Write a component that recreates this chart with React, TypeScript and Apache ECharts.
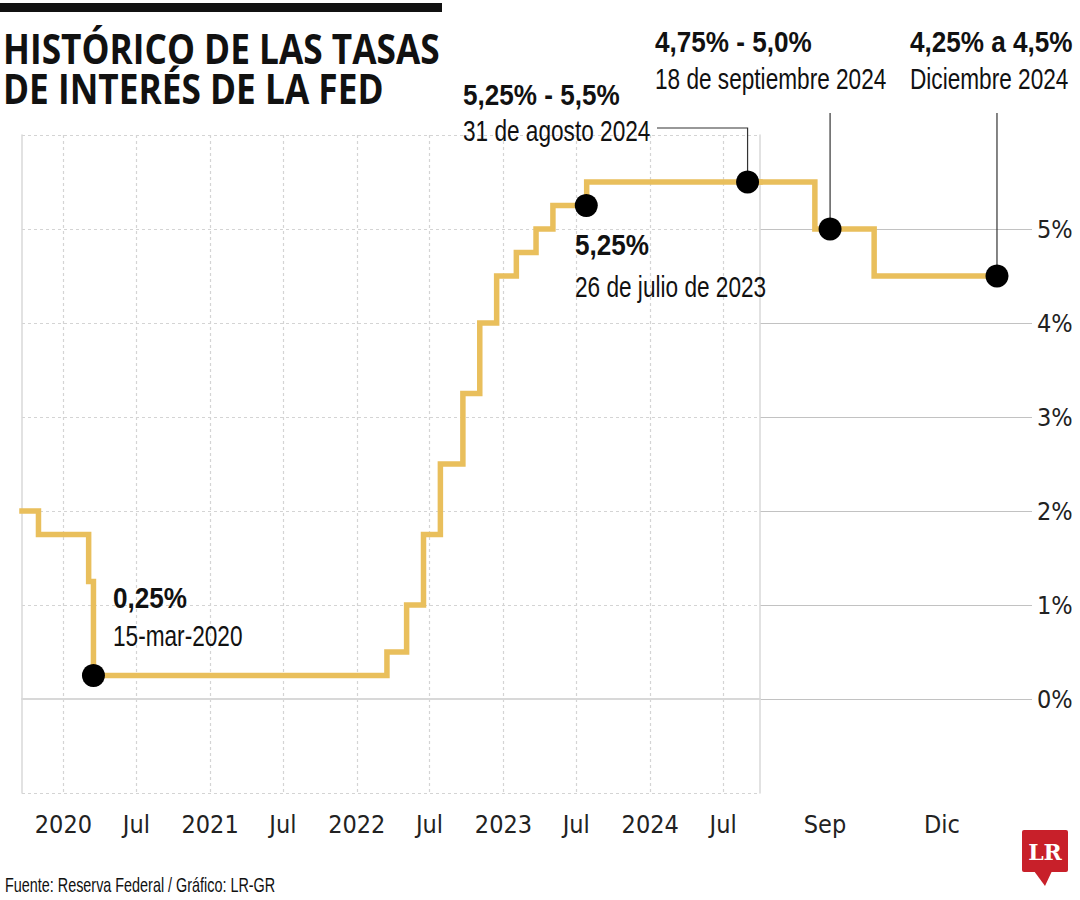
import React, { useEffect, useRef } from 'react';
import * as echarts from 'echarts';

// ---------- DATA ----------
// Upper bound of the Fed funds target range (%), at each change date (main panel)
const rateChangeDates = [
  '2019-09-20', '2019-10-31', '2020-03-04', '2020-03-16', '2022-03-17', '2022-05-05',
  '2022-06-16', '2022-07-28', '2022-09-22', '2022-11-03', '2022-12-15', '2023-02-02',
  '2023-03-23', '2023-05-04', '2023-07-27', '2024-10-01',
];
const rateUpper = [2.0, 1.75, 1.25, 0.25, 0.5, 1.0, 1.75, 2.5, 3.25, 4.0, 4.5, 4.75, 5.0, 5.25, 5.5, 5.5];

const mainAxisStart = '2019-09-20';
const mainAxisEnd = '2024-10-01';
const mainTickDates = ['2020-01-01', '2020-07-01', '2021-01-01', '2021-07-01', '2022-01-01', '2022-07-01', '2023-01-01', '2023-07-01', '2024-01-01', '2024-07-01'];
const mainTickLabels = ['2020', 'Jul', '2021', 'Jul', '2022', 'Jul', '2023', 'Jul', '2024', 'Jul'];

const highlightDates = ['2020-03-16', '2023-07-26', '2024-08-31'];
const highlightRates = [0.25, 5.25, 5.5];

// Zoomed 2024 panel (position in months of 2024: Sep = 9, Dic = 12)
const zoomAxisMin = 7.333;
const zoomAxisMax = 14.308;
const zoomMonths = [7.333, 8.74, 10.26, 13.41];
const zoomRates = [5.5, 5.0, 4.5, 4.5];
const zoomTickMonths = [9, 12];
const zoomTickLabels = ['Sep', 'Dic'];
const zoomDotMonths = [9.13, 13.41];
const zoomDotRates = [5.0, 4.5];

const yMin = -1;
const yMax = 6;
const yLabelValues = [0, 1, 2, 3, 4, 5];

// ---------- HELPERS ----------
function decYear(s: string): number {
  const [y, m, d] = s.split('-').map(Number);
  const t = Date.UTC(y, m - 1, d);
  const a = Date.UTC(y, 0, 1);
  const b = Date.UTC(y + 1, 0, 1);
  return y + (t - a) / (b - a);
}

const AXISFONT = "'DejaVu Sans Condensed', 'DejaVu Sans', sans-serif";
const ANNFONT = "'Liberation Sans', Arial, sans-serif";
const YELLOW = '#E9BF5C';

export default function App() {
  const ref = useRef<HTMLDivElement>(null);

  useEffect(() => {
    document.body.style.margin = '0';
    if (!ref.current) return;
    const chart = echarts.init(ref.current, undefined, { renderer: 'svg' });

    const mainTicks = mainTickDates.map(decYear);
    const mainLabelFor = (v: number) => {
      let best = 0;
      let bd = Infinity;
      mainTicks.forEach((t, i) => {
        const d = Math.abs(t - v);
        if (d < bd) { bd = d; best = i; }
      });
      return mainTickLabels[best];
    };
    const zoomLabelFor = (v: number) => {
      const i = zoomTickMonths.findIndex((m) => Math.abs(m - v) < 0.01);
      return i >= 0 ? zoomTickLabels[i] : '';
    };

    const mainData = rateChangeDates.map((d, i) => [decYear(d), rateUpper[i]]);
    const mainDots = highlightDates.map((d, i) => [decYear(d), highlightRates[i]]);
    const zoomData = zoomMonths.map((m, i) => [m, zoomRates[i]]);
    const zoomDots = zoomDotMonths.map((m, i) => [m, zoomDotRates[i]]);

    const axisLabelStyle = { fontFamily: AXISFONT, fontSize: 25, color: '#222' };

    const option: any = {
      animation: false,
      backgroundColor: '#ffffff',
      grid: [
        { left: 22, top: 135, width: 738, height: 658 },
        { left: 760, top: 135, width: 272, height: 658 },
      ],
      xAxis: [
        {
          type: 'value',
          gridIndex: 0,
          min: decYear(mainAxisStart),
          max: decYear(mainAxisEnd),
          axisLine: { show: true, lineStyle: { color: '#d8d8d8', width: 2 } },
          axisTick: { show: false, customValues: mainTicks },
          axisLabel: {
            ...axisLabelStyle,
            customValues: mainTicks,
            formatter: (v: number) => mainLabelFor(v),
            margin: 19,
          },
          splitLine: { show: true, lineStyle: { color: '#d4d4d4', type: [3, 3], width: 1.2 } },
        },
        {
          type: 'value',
          gridIndex: 1,
          min: zoomAxisMin,
          max: zoomAxisMax,
          axisLine: { show: false },
          axisTick: { show: false, customValues: zoomTickMonths },
          axisLabel: {
            ...axisLabelStyle,
            customValues: zoomTickMonths,
            formatter: (v: number) => zoomLabelFor(v),
            margin: 19,
          },
          splitLine: { show: false },
        },
      ],
      yAxis: [
        {
          type: 'value',
          gridIndex: 0,
          min: yMin,
          max: yMax,
          interval: 1,
          axisLine: { show: true, lineStyle: { color: '#d8d8d8', width: 1.5 } },
          axisTick: { show: false },
          axisLabel: { show: false },
          splitLine: { show: true, lineStyle: { color: '#d4d4d4', type: [3, 3], width: 1.2 } },
        },
        {
          type: 'value',
          gridIndex: 0,
          position: 'right',
          min: yMin,
          max: yMax,
          interval: 1,
          axisLine: { show: true, onZero: false, lineStyle: { color: '#d8d8d8', width: 1.5 } },
          axisTick: { show: false },
          axisLabel: { show: false },
          splitLine: { show: false },
        },
        {
          type: 'value',
          gridIndex: 1,
          position: 'right',
          min: yMin,
          max: yMax,
          interval: 1,
          axisLine: { show: false },
          axisTick: { show: false },
          axisLabel: {
            ...axisLabelStyle,
            formatter: (v: number) => (yLabelValues.indexOf(v) >= 0 ? `${v}%` : ''),
            margin: 5,
          },
          splitLine: {
            show: true,
            lineStyle: {
              color: ['transparent', '#c2c2c2', '#c2c2c2', '#c2c2c2', '#c2c2c2', '#c2c2c2', '#c2c2c2', 'transparent'],
              width: 1.2,
            },
          },
        },
      ],
      series: [
        {
          type: 'line',
          xAxisIndex: 1,
          yAxisIndex: 2,
          data: [],
          clip: false,
          z: 1,
          silent: true,
          markLine: {
            silent: true,
            symbol: 'none',
            label: { show: false },
            lineStyle: { color: '#d0d0d0', type: 'solid', width: 1.2 },
            data: zoomTickMonths.map((m) => [{ coord: [m, 5.33] }, { coord: [m, -1.07] }]),
          },
        },
        {
          type: 'line',
          xAxisIndex: 0,
          yAxisIndex: 0,
          step: 'end',
          data: mainData,
          showSymbol: false,
          lineStyle: { color: YELLOW, width: 5.5, cap: 'square', join: 'miter' },
          z: 3,
        },
        {
          type: 'line',
          xAxisIndex: 1,
          yAxisIndex: 2,
          step: 'end',
          data: zoomData,
          showSymbol: false,
          lineStyle: { color: YELLOW, width: 5.5, cap: 'square', join: 'miter' },
          z: 3,
        },
        {
          type: 'scatter',
          xAxisIndex: 0,
          yAxisIndex: 0,
          data: mainDots,
          symbolSize: 23,
          itemStyle: { color: '#000', opacity: 1 },
          z: 5,
        },
        {
          type: 'scatter',
          xAxisIndex: 1,
          yAxisIndex: 2,
          data: zoomDots,
          symbolSize: 23,
          itemStyle: { color: '#000', opacity: 1 },
          z: 5,
        },
      ],
    };

    chart.setOption(option);

    const pAug = chart.convertToPixel({ xAxisIndex: 0, yAxisIndex: 0 }, mainDots[2]) as number[];
    const pSep = chart.convertToPixel({ xAxisIndex: 1, yAxisIndex: 2 }, zoomDots[0]) as number[];
    const pDic = chart.convertToPixel({ xAxisIndex: 1, yAxisIndex: 2 }, zoomDots[1]) as number[];

    const txt = (text: string, x: number, y: number, bold: boolean, size?: number, sx?: number) => ({
      type: 'text',
      x,
      y,
      z: 10,
      scaleX: sx ?? (bold ? 0.87 : 0.78),
      style: {
        text,
        fontFamily: ANNFONT,
        fontSize: size ?? (bold ? 30 : 29),
        fontWeight: bold ? 'bold' : 'normal',
        fill: '#111',
        align: 'left',
        verticalAlign: 'middle',
      },
    });

    const leader = (pts: number[][]) => ({
      type: 'polyline',
      z: 4,
      shape: { points: pts },
      style: { stroke: '#333', lineWidth: 1.2, fill: 'none' },
    });

    chart.setOption({
      graphic: [
        { type: 'rect', shape: { x: 0, y: 3, width: 442, height: 9 }, style: { fill: '#111' } },
        {
          type: 'text', x: 3, y: 48, scaleX: 0.86,
          style: { text: 'HISTÓRICO DE LAS TASAS', fontFamily: "'Open Sans', sans-serif", fontWeight: 'bold', fontSize: 41, fill: '#111', verticalAlign: 'middle' },
        },
        {
          type: 'text', x: 3, y: 88, scaleX: 0.86,
          style: { text: 'DE INTERÉS DE LA FED', fontFamily: "'Open Sans', sans-serif", fontWeight: 'bold', fontSize: 41, fill: '#111', verticalAlign: 'middle' },
        },
        txt('0,25%', 113, 598, true),
        txt('15-mar-2020', 113, 636, false),
        txt('5,25%', 575, 245, true),
        txt('26 de julio de 2023', 575, 287, false),
        txt('5,25% - 5,5%', 463, 95, true),
        txt('31 de agosto 2024', 463, 131, false),
        txt('4,75% - 5,0%', 655, 42, true),
        txt('18 de septiembre 2024', 655, 79, false),
        txt('4,25% a 4,5%', 910, 42, true),
        txt('Diciembre 2024', 910, 79, false),
        leader([[657, 128], [pAug[0], 128], [pAug[0], pAug[1]]]),
        leader([[pSep[0], 113], [pSep[0], pSep[1]]]),
        leader([[pDic[0], 113], [pDic[0], pDic[1]]]),
        txt('Fuente: Reserva Federal / Gráfico: LR-GR', 5, 885, false, 20, 0.72),
        { type: 'rect', shape: { x: 1022, y: 830, width: 46, height: 42, r: 2 }, style: { fill: '#C8202A' } },
        { type: 'polygon', shape: { points: [[1034, 871], [1052, 871], [1045, 886]] }, style: { fill: '#C8202A' } },
        {
          type: 'text', x: 1045, y: 852,
          style: { text: 'LR', fontFamily: "'DejaVu Serif', serif", fontWeight: 'bold', fontSize: 22, fill: '#fff', align: 'center', verticalAlign: 'middle' },
        },
      ],
    });

    return () => {
      chart.dispose();
    };
  }, []);

  return (
    <div
      ref={ref}
      style={{ position: 'absolute', left: 0, top: 0, width: 1080, height: 900, background: '#fff' }}
    />
  );
}
